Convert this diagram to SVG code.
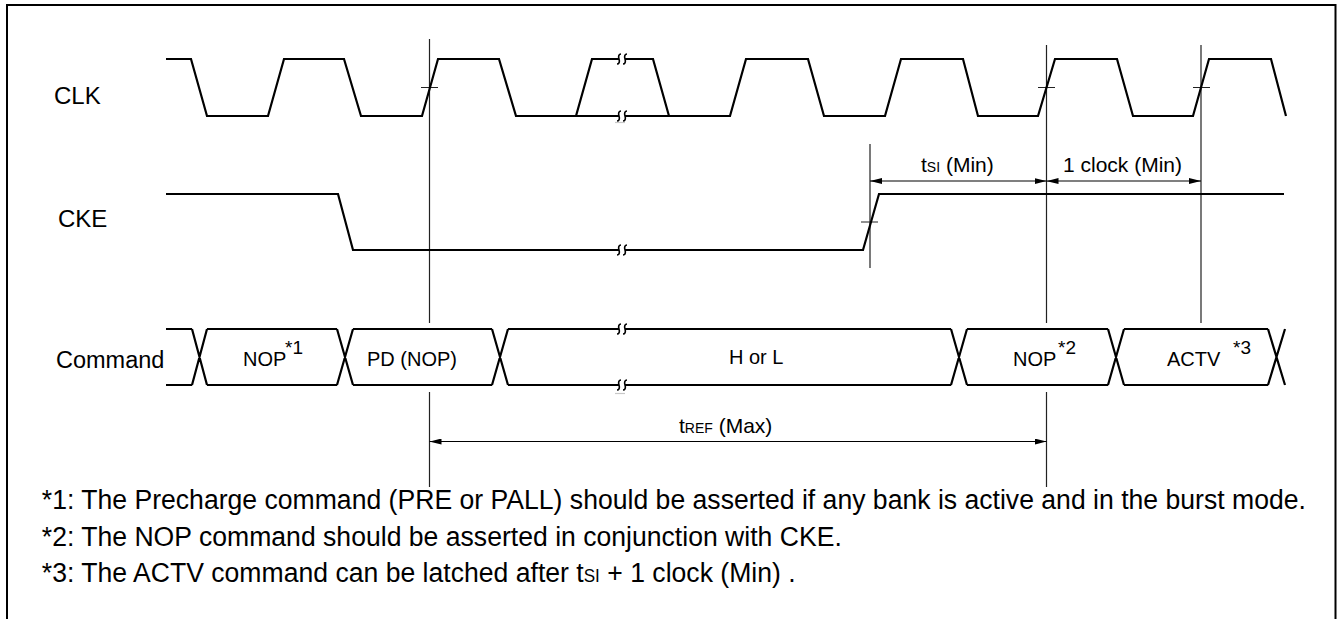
<svg xmlns="http://www.w3.org/2000/svg" width="1338" height="619" viewBox="0 0 1338 619">
<defs>
<style>
.frame{fill:none;stroke:#000;stroke-width:2}
.wave{fill:none;stroke:#000;stroke-width:2.2;stroke-linejoin:miter;stroke-miterlimit:10}
.guide{fill:none;stroke:#222;stroke-width:1.2}
.dim{fill:none;stroke:#000;stroke-width:1.2;marker-start:url(#arrS);marker-end:url(#arrE)}
.brk{fill:none;stroke:#000;stroke-width:1.6}
.art{fill:none;stroke:#c8c8c8;stroke-width:1.2}
.lbl{font-family:'Liberation Sans',Arial,Helvetica,sans-serif;fill:#000}
.sig{font-size:24px}
.bus{font-size:20px}
.sup{font-size:19px}
.dl{font-size:21px}
.sc{font-size:14px}
.note{font-size:28px}
</style>
<marker id="arrE" markerWidth="13" markerHeight="6" refX="12" refY="3" orient="auto" markerUnits="userSpaceOnUse"><path d="M0,0 L12,3 L0,6 z" fill="#000"/></marker>
<marker id="arrS" markerWidth="13" markerHeight="6" refX="0" refY="3" orient="auto" markerUnits="userSpaceOnUse"><path d="M12,0 L0,3 L12,6 z" fill="#000"/></marker>
<path id="brkmark" d="M-1,-5 C-3,-5 -4,-3 -3,0 C-2,3 -3,5 -5,5 M5,-5 C3,-5 2,-3 3,0 C4,3 3,5 1,5"/>
</defs>

<g id="frame">
<path class="frame" d="M7,619 L7,5 L1335.5,5 L1335.5,619"/>
</g>

<g id="labels" class="lbl">
<text class="sig" x="54" y="104">CLK</text>
<text class="sig" x="58" y="227">CKE</text>
<text x="56" y="368" style="font-size:23.5px">Command</text>
</g>

<g id="guides">
<path class="guide" d="M429.5,39 V323 M429.5,392 V487 M1046.5,45 V323 M1046.5,392 V487 M1201,45 V323 M870,144 V268"/>
<path class="guide" d="M421,87.5 H438 M1038,87.5 H1055 M1193,87.5 H1210 M861,222 H878"/>
</g>

<g id="clk">
<polyline class="wave" points="166,59 191,59 207,116 268,116 284,59 344,59 361,116 422,116 438,59 499,59 516,116 619,116"/>
<polyline class="wave" points="576,116 592,59 619,59"/>
<polyline class="wave" points="625,59 653,59 669,116"/>
<polyline class="wave" points="625,116 730,116 746,59 808,59 824,116 885,116 901,59 963,59 978,116 1038,116 1055,59 1117,59 1133,116 1193,116 1209,59 1271,59 1286,116"/>
<use href="#brkmark" class="brk" x="622" y="59"/>
<use href="#brkmark" class="brk" x="622" y="116"/>
<path class="art" d="M615,122.5 H625"/>
</g>

<g id="cke">
<polyline class="wave" points="166,194 338,194 353,250 619,250"/>
<polyline class="wave" points="625,250 863,250 879,194 1284,194"/>
<use href="#brkmark" class="brk" x="622" y="250"/>
</g>

<g id="command">
<path class="wave" d="M166,329 H192 M166,385 H192 M192,329 L207,385 M192,385 L207,329 M207,329 H337 M207,385 H337 M337,329 L353,385 M337,385 L353,329 M353,329 H492 M353,385 H492 M492,329 L508,385 M492,385 L508,329 M508,329 H619 M508,385 H619 M625,329 H951 M625,385 H951 M951,329 L967,385 M951,385 L967,329 M967,329 H1108 M967,385 H1108 M1108,329 L1124,385 M1108,385 L1124,329 M1124,329 H1268 M1124,385 H1268 M1268,329 L1285,385 M1268,385 L1285,329"/>
<use href="#brkmark" class="brk" x="622" y="329"/>
<use href="#brkmark" class="brk" x="622" y="385"/>
<path class="art" d="M615,393.5 H625"/>
<g class="lbl bus">
<text x="243" y="366">NOP</text><text class="sup" x="285" y="354">*1</text>
<text x="367" y="366">PD (NOP)</text>
<text x="729" y="364">H or L</text>
<text x="1013" y="366">NOP</text><text class="sup" x="1058" y="354">*2</text>
<text x="1167" y="366">ACTV</text><text class="sup" x="1233" y="354">*3</text>
</g>
</g>

<g id="connectors">
<line class="dim" x1="870" y1="181" x2="1046.5" y2="181"/>
<line class="dim" x1="1046.5" y1="181" x2="1201" y2="181"/>
<line class="dim" x1="429.5" y1="441.5" x2="1046.5" y2="441.5"/>
<g class="lbl dl">
<text x="921" y="172">t<tspan class="sc">SI</tspan> (Min)</text>
<text x="1063" y="172">1 clock (Min)</text>
<text x="679" y="433">t<tspan class="sc">REF</tspan> (Max)</text>
</g>
</g>

<g id="notes" class="lbl note" transform="scale(0.95,1)">
<text x="44" y="509">*1: The Precharge command (PRE or PALL) should be asserted if any bank is active and in the burst mode.</text>
<text x="44" y="546">*2: The NOP command should be asserted in conjunction with CKE.</text>
<text x="44" y="582">*3: The ACTV command can be latched after t<tspan style="font-size:18px">SI</tspan> + 1 clock (Min) .</text>
</g>
</svg>
